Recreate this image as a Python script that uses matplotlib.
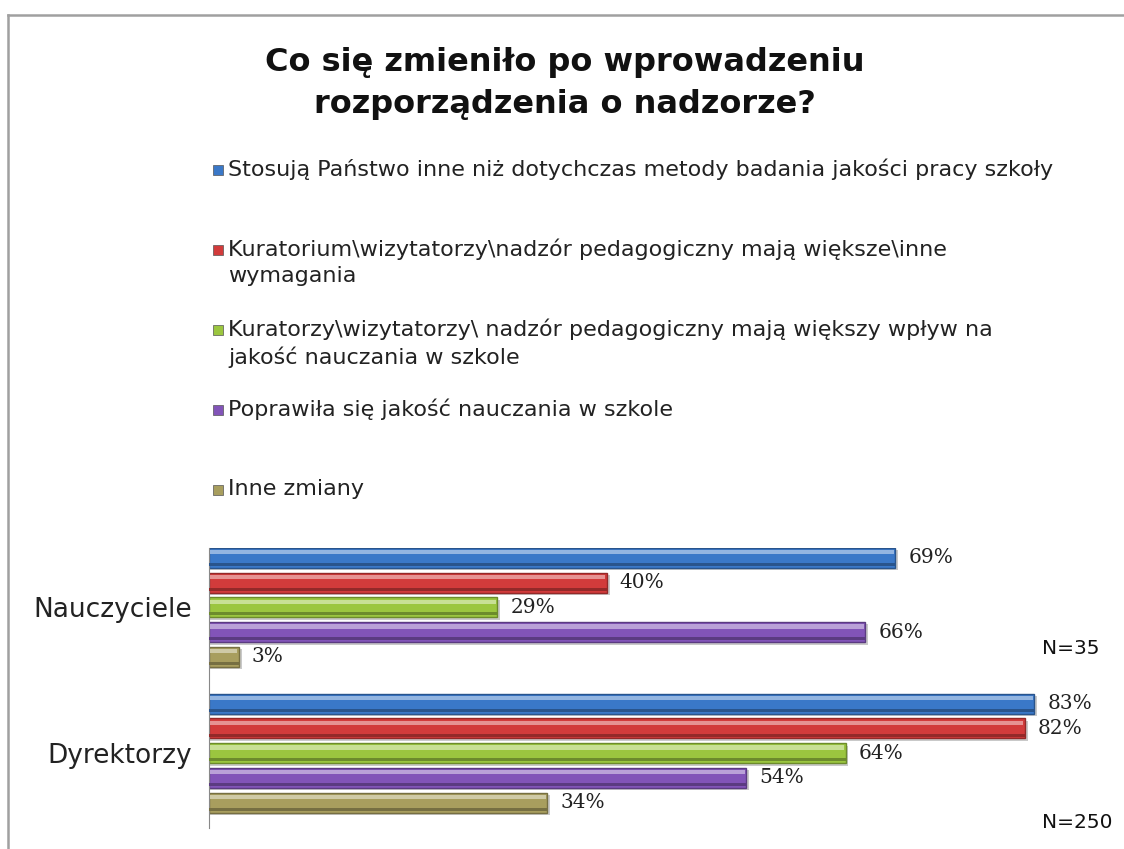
import numpy as np
import matplotlib.pyplot as plt
from matplotlib.lines import Line2D
from matplotlib.colors import to_rgb

# data
groups = ['Nauczyciele', 'Dyrektorzy']
group_n = ['N=35', 'N=250']
series = [
    'Stosują Państwo inne niż dotychczas metody badania jakości pracy szkoły',
    'Kuratorium\\wizytatorzy\\nadzór pedagogiczny mają większe\\inne\nwymagania',
    'Kuratorzy\\wizytatorzy\\ nadzór pedagogiczny mają większy wpływ na\njakość nauczania w szkole',
    'Poprawiła się jakość nauczania w szkole',
    'Inne zmiany',
]
nauczyciele = [69, 40, 29, 66, 3]
dyrektorzy = [83, 82, 64, 54, 34]
values = [nauczyciele, dyrektorzy]
colors = ['#3A78C8', '#D23B3B', '#9BC63F', '#8254B8', '#A89E5E']

W, H = 1124, 849
fig = plt.figure(figsize=(W / 100, H / 100), dpi=100)
fig.patch.set_facecolor('white')

# frame (left and top visible)
fig.add_artist(Line2D([8 / W, 8 / W], [0, 1 - 15 / H], color='#a0a0a0', lw=1.8))
fig.add_artist(Line2D([8 / W, 1], [1 - 15 / H, 1 - 15 / H], color='#a0a0a0', lw=1.8))

# title
fig.text(565 / W, 1 - 62 / H, 'Co się zmieniło po wprowadzeniu', ha='center', va='center',
         fontsize=23, fontweight='bold', color='#111111')
fig.text(565 / W, 1 - 105 / H, 'rozporządzenia o nadzorze?', ha='center', va='center',
         fontsize=23, fontweight='bold', color='#111111')

# legend, entries evenly spaced
for i, (name, c) in enumerate(zip(series, colors)):
    ytop = 170 + i * 80
    fig.text(228 / W, 1 - (ytop - 11) / H, name, ha='left', va='top', fontsize=16,
             color='#222222', linespacing=1.33)
    fig.patches.append(plt.Rectangle((213 / W, 1 - (ytop + 5) / H), 10 / W, 10 / H,
                                     transform=fig.transFigure, facecolor=c,
                                     edgecolor='#555555', lw=0.5, figure=fig))

# bars
ax = fig.add_axes([209 / W, 1 - 828 / H, 910 / W, 280 / H])
gap = 5.9
h = 0.81
for g, vals in enumerate(values):
    for i, (v, c) in enumerate(zip(vals, colors)):
        y = i + g * gap
        base = np.array(to_rgb(c))
        dark = base * 0.7
        light = base + (1 - base) * 0.45
        ax.barh(y + 0.1, v + 0.3, height=h, color='#c9c9c9', zorder=1)
        ax.barh(y, v, height=h, color=c, edgecolor=dark, lw=1.0, zorder=2)
        ax.barh(y - h * 0.28, v - 0.3, height=h * 0.22, left=0.15, color=light, lw=0, zorder=3)
        ax.barh(y + h * 0.33, v, height=h * 0.15, color=dark, lw=0, zorder=3)
        ax.text(v + 1.3, y, f'{v}%', ha='left', va='center', fontsize=14.5,
                family='DejaVu Serif', color='#222222')

ax.set_xlim(0, 91.5)
ax.set_ylim(10.93, -0.4)
ax.set_yticks([2, 2 + gap], groups)
ax.set_xticks([])
ax.tick_params(axis='y', length=0, pad=12, labelsize=19, labelcolor='#222222')
for s in ['top', 'right', 'bottom']:
    ax.spines[s].set_visible(False)
ax.spines['left'].set_color('#888888')
ax.set_facecolor('none')

fig.text(1100 / W, 1 - 648 / H, group_n[0], ha='right', va='center', fontsize=14.5, color='#111111')
fig.text(1113 / W, 1 - 822 / H, group_n[1], ha='right', va='center', fontsize=14.5, color='#111111')

fig.savefig('out.png', dpi=100)
